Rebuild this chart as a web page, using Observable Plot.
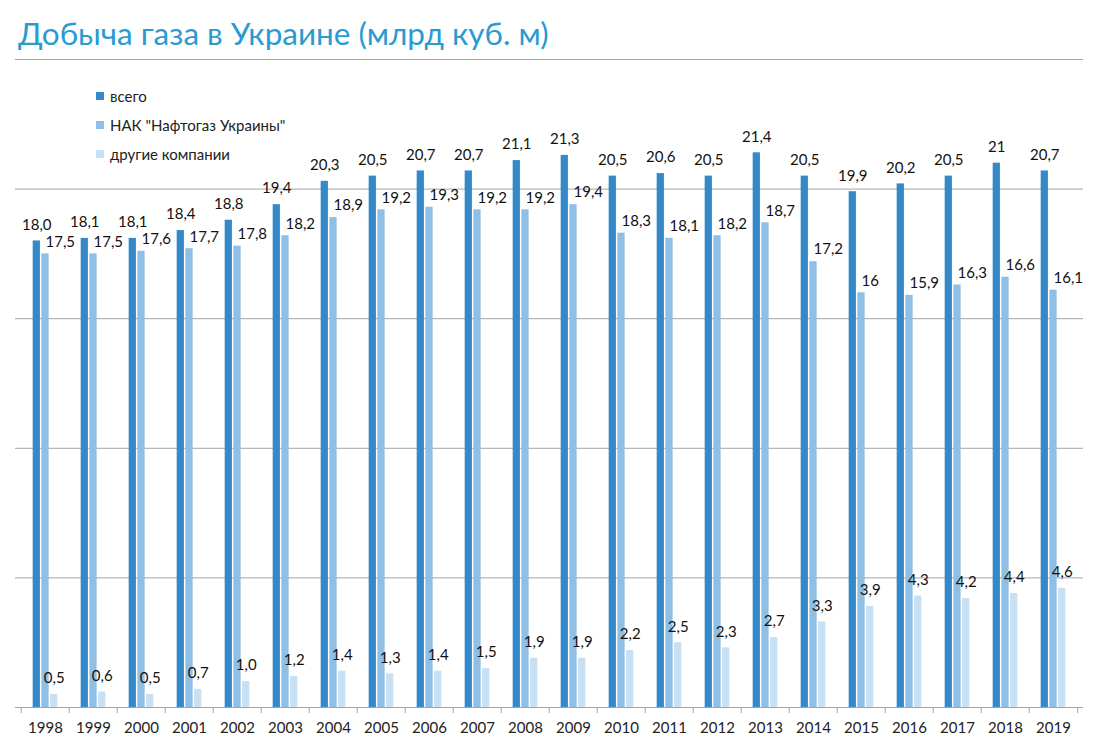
<!DOCTYPE html>
<html>
<head>
<meta charset="utf-8">
<script src="https://cdn.jsdelivr.net/npm/d3@7"></script>
<script src="https://cdn.jsdelivr.net/npm/@observablehq/plot@0.6"></script>
<style>
  html, body { margin: 0; padding: 0; background: #fff; }
  #wrap { position: relative; width: 1100px; height: 752px; font-family: Lato, "Open Sans", sans-serif; }
  #title { position: absolute; left: 18px; top: 14px; font-size: 31.5px; color: #2a9bd1; white-space: nowrap; }
  #legend { position: absolute; left: 96px; top: 81px; font-size: 15px; color: #222; }
  #legend .row { height: 29px; display: flex; align-items: center; }
  #legend .sw { width: 8px; height: 8px; margin-right: 6px; }
  #chart { position: absolute; left: 0; top: 0; }
</style>
</head>
<body>
<div id="wrap">
  <div id="chart"></div>
  <div id="title">Добыча газа в Украине (млрд куб. м)</div>
  <div id="legend"></div>
</div>
<script>
const years = ["1998","1999","2000","2001","2002","2003","2004","2005","2006","2007","2008","2009","2010","2011","2012","2013","2014","2015","2016","2017","2018","2019"];
const totalLabels = ["18,0","18,1","18,1","18,4","18,8","19,4","20,3","20,5","20,7","20,7","21,1","21,3","20,5","20,6","20,5","21,4","20,5","19,9","20,2","20,5","21","20,7"];
const naftogazLabels = ["17,5","17,5","17,6","17,7","17,8","18,2","18,9","19,2","19,3","19,2","19,2","19,4","18,3","18,1","18,2","18,7","17,2","16","15,9","16,3","16,6","16,1"];
const otherLabels = ["0,5","0,6","0,5","0,7","1,0","1,2","1,4","1,3","1,4","1,5","1,9","1,9","2,2","2,5","2,3","2,7","3,3","3,9","4,3","4,2","4,4","4,6"];
const seriesNames = ["всего", "НАК \"Нафтогаз Украины\"", "другие компании"];
const seriesColors = ["#3389ca", "#8fbfe4", "#c9dff2"];
const yTicks = [5, 10, 15, 20, 25];

const toNum = s => +s.replace(",", ".");
const rows = (labels) => years.map((y, i) => ({year: y, label: labels[i], value: toNum(labels[i])}));
const total = rows(totalLabels);
const naftogaz = rows(naftogazLabels);
const other = rows(otherLabels);

const W = 1100, H = 752, mL = 15, mR = 17, mT = 59, mB = 45;
const band = (W - mL - mR) / years.length;
const barW = 7.8;
const inset = (band - barW) / 2;
const step = 8.7;

const barOpts = (color, dx) => ({x: "year", y: "value", fill: color, insetLeft: inset, insetRight: inset, dx});

const chart = Plot.plot({
  width: W,
  height: H,
  marginLeft: mL,
  marginRight: mR,
  marginTop: mT,
  marginBottom: mB,
  style: {fontFamily: "Lato, 'Open Sans', sans-serif", fontSize: "15px", background: "transparent"},
  x: {type: "band", domain: years, padding: 0, axis: null},
  y: {domain: [0, 25], axis: null},
  marks: [
    Plot.ruleY(yTicks, {stroke: "#a6a6a6", strokeWidth: 1}),
    Plot.barY(total, barOpts(seriesColors[0], -step)),
    Plot.barY(naftogaz, barOpts(seriesColors[1], 0)),
    Plot.barY(other, barOpts(seriesColors[2], step)),
    Plot.ruleY([0], {stroke: "#a6a6a6", strokeWidth: 1}),
    Plot.ruleX(years, {x: d => d, dx: -band / 2, y1: 0, y2: -0.24, stroke: "#a6a6a6"}),
    Plot.ruleX(years.slice(-1), {x: d => d, dx: band / 2, y1: 0, y2: -0.24, stroke: "#a6a6a6"}),
    Plot.text(years, {x: d => d, y: 0, text: d => d, dy: 21, fill: "#222", fontSize: 15}),
    Plot.text(total, {x: "year", y: "value", text: "label", dx: -step, dy: -16, fill: "#111", fontSize: 15}),
    Plot.text(naftogaz, {x: "year", y: "value", text: "label", dx: 0, dy: -12, textAnchor: "start", fill: "#111", fontSize: 15}),
    Plot.text(other, {x: "year", y: "value", text: "label", dx: step, dy: -16, fill: "#111", fontSize: 15})
  ]
});
document.getElementById("chart").appendChild(chart);

const legend = document.getElementById("legend");
seriesNames.forEach((name, i) => {
  const row = document.createElement("div");
  row.className = "row";
  const sw = document.createElement("div");
  sw.className = "sw";
  sw.style.background = seriesColors[i];
  const t = document.createElement("span");
  t.textContent = name;
  row.appendChild(sw);
  row.appendChild(t);
  legend.appendChild(row);
});
</script>
</body>
</html>
